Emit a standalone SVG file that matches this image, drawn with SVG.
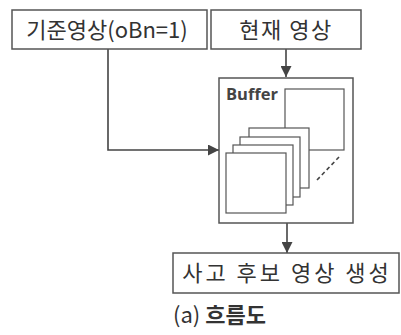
<svg xmlns="http://www.w3.org/2000/svg" width="401" height="335" viewBox="0 0 401 335">
<defs>
<style>
.box{fill:#fff;stroke:#555;stroke-width:1.5}
.ln{fill:none;stroke:#444;stroke-width:1.6}
.t{font-family:"Noto Sans CJK KR","Noto Sans",sans-serif;fill:#333;font-size:22px}
.fr{fill:#fff;stroke:#555;stroke-width:1.2}
</style>
<marker id="a" viewBox="0 0 10 10" refX="10" refY="5" markerWidth="11" markerHeight="11" orient="auto" markerUnits="userSpaceOnUse">
<path d="M0,0 L10,5 L0,10 z" fill="#444"/>
</marker>
</defs>
<rect width="401" height="335" fill="#fff"/>
<g id="connectors">
<path class="ln" d="M286,49 V77" marker-end="url(#a)"/>
<path class="ln" d="M108,49 V150 H219" marker-end="url(#a)"/>
<path class="ln" d="M287,223 V253" marker-end="url(#a)"/>
</g>
<g id="ref">
<rect class="box" x="12" y="10" width="195" height="39"/>
<text class="t" x="107" y="38" text-anchor="middle" font-size="23">기준영상(oBn=1)</text>
</g>
<g id="cur">
<rect class="box" x="211" y="10" width="150" height="39"/>
<text class="t" x="286" y="38" text-anchor="middle" letter-spacing="1.5">현재 영상</text>
</g>
<g id="buffer">
<rect class="box" x="219" y="78" width="134" height="145"/>
<text x="226" y="100" font-family="Open Sans,Lato,sans-serif" font-weight="bold" font-size="16.5" fill="#444">Buffer</text>
<rect class="fr" x="285" y="89" width="59" height="61"/>
<rect class="fr" x="249" y="128" width="60" height="60"/>
<rect class="fr" x="240" y="137" width="60" height="60"/>
<rect class="fr" x="233" y="145" width="60" height="60"/>
<rect class="fr" x="226" y="153" width="60" height="60"/>
<path d="M317,180 L339,157" stroke="#444" stroke-width="1.6" stroke-dasharray="4,3"/>
</g>
<g id="gen">
<rect class="box" x="173" y="253" width="226" height="40"/>
<text class="t" x="287" y="281" text-anchor="middle" letter-spacing="3">사고 후보 영상 생성</text>
</g>
<text class="t" x="173" y="323" font-size="20">(a) <tspan font-weight="bold">흐름도</tspan></text>
</svg>
